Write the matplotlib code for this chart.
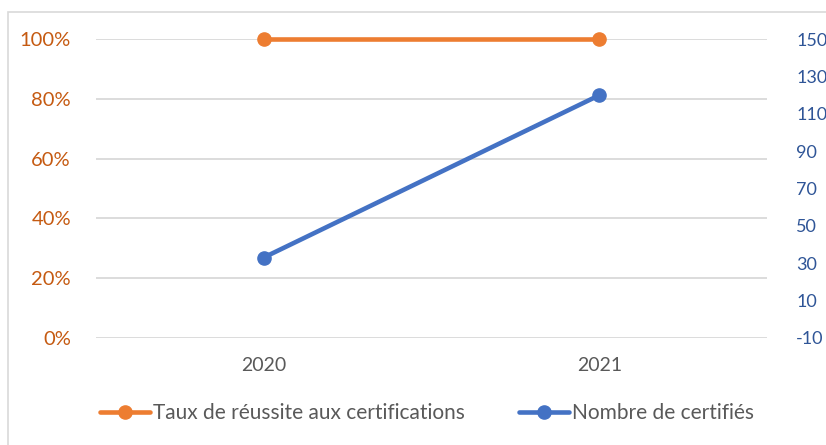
import matplotlib.pyplot as plt
from matplotlib.patches import Rectangle
from matplotlib.ticker import PercentFormatter

plt.rcParams['font.family'] = ['Lato', 'DejaVu Sans']
plt.rcParams['axes.unicode_minus'] = False

years = ['2020', '2021']
taux_reussite = [1.0, 1.0]
nombre_certifies = [33, 120]
left_ticks = [0, 0.2, 0.4, 0.6, 0.8, 1.0]
right_ticks = [-10, 10, 30, 50, 70, 90, 110, 130, 150]

ORANGE = '#ED7D31'
BLUE = '#4472C4'
ORANGE_TXT = '#C55A11'
BLUE_TXT = '#2F5597'
GRAY_TXT = '#595959'
GRID = '#D9D9D9'

fig = plt.figure(figsize=(8.26, 4.45), dpi=100)
fig.patches.append(Rectangle((8 / 826, -0.1), 2, 1 - 12 / 445 + 0.1,
                             transform=fig.transFigure, fill=False,
                             edgecolor=GRID, linewidth=1.2))

ax = fig.add_axes([96 / 826, 1 - 337.7 / 445, 671 / 826, 298.4 / 445])
ax2 = ax.twinx()

x = range(len(years))
l1, = ax.plot(x, taux_reussite, color=ORANGE, lw=3.3, marker='o', ms=9.5,
              label='Taux de réussite aux certifications', zorder=3,
              solid_capstyle='round', clip_on=False)
l2, = ax2.plot(x, nombre_certifies, color=BLUE, lw=3.3, marker='o', ms=9.5,
               label='Nombre de certifiés', zorder=3, solid_capstyle='round',
               clip_on=False)

ax.set_xlim(-0.5, 1.5)
ax.set_ylim(0, 1)
ax2.set_ylim(-10, 150)
ax.set_xticks(list(x))
ax.set_xticklabels(years)
ax.set_yticks(left_ticks)
ax2.set_yticks(right_ticks)
ax.yaxis.set_major_formatter(PercentFormatter(1.0, decimals=0))

ax.grid(axis='y', color=GRID, lw=1.3)
ax.set_axisbelow(True)
for a in (ax, ax2):
    for s in a.spines.values():
        s.set_visible(False)

ax.tick_params(axis='x', length=0, pad=14, labelsize=14, labelcolor=GRAY_TXT)
ax.tick_params(axis='y', length=0, pad=18, labelsize=14.5, labelcolor=ORANGE_TXT)
ax2.tick_params(axis='y', length=0, pad=21, labelsize=13, labelcolor=BLUE_TXT)

fig.legend(handles=[l1, l2], loc='center', bbox_to_anchor=(427 / 826, 1 - 413 / 445),
           ncol=2, frameon=False, fontsize=15, labelcolor=GRAY_TXT,
           handlelength=2.4, handletextpad=0.15, columnspacing=2.6)

fig.savefig('out.png', dpi=100)
